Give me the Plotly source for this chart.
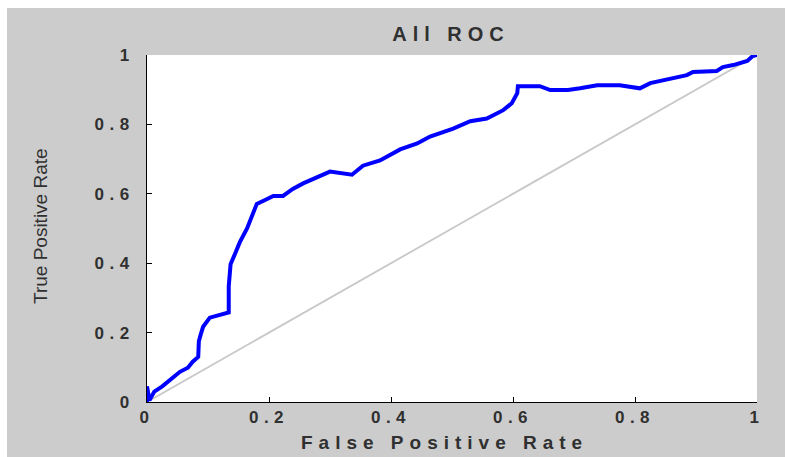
import plotly.graph_objects as go

# ROC curve points (false positive rate, true positive rate)
fpr = [0.000, 0.000, 0.004, 0.012, 0.025, 0.038, 0.054, 0.067, 0.075, 0.084,
       0.085, 0.088, 0.092, 0.103, 0.120, 0.134, 0.134, 0.137, 0.144, 0.152,
       0.164, 0.172, 0.180, 0.197, 0.207, 0.223, 0.239, 0.256, 0.272, 0.290,
       0.300, 0.336, 0.354, 0.382, 0.415, 0.443, 0.464, 0.502, 0.530, 0.557,
       0.584, 0.598, 0.607, 0.608, 0.644, 0.661, 0.690, 0.710, 0.738, 0.775,
       0.808, 0.825, 0.852, 0.885, 0.895, 0.934, 0.944, 0.961, 0.984, 0.993,
       1.000]
tpr = [0.000, 0.045, 0.005, 0.030, 0.045, 0.064, 0.087, 0.099, 0.116, 0.130,
       0.175, 0.194, 0.217, 0.243, 0.252, 0.258, 0.333, 0.397, 0.426, 0.460,
       0.500, 0.536, 0.571, 0.585, 0.594, 0.594, 0.614, 0.630, 0.643, 0.655,
       0.664, 0.655, 0.681, 0.696, 0.728, 0.745, 0.765, 0.788, 0.809, 0.817,
       0.841, 0.861, 0.890, 0.910, 0.910, 0.899, 0.899, 0.904, 0.913, 0.913,
       0.904, 0.919, 0.930, 0.942, 0.951, 0.954, 0.965, 0.971, 0.983, 0.997,
       1.000]

# chance line
chance_x = [0, 1]
chance_y = [0, 1]

tick_vals = [0, 0.2, 0.4, 0.6, 0.8, 1]
tick_text = ["0", "0.2", "0.4", "0.6", "0.8", "1"]

title_text = "All ROC"
x_title = "False Positive Rate"
y_title = "True Positive Rate"

FONT = "Liberation Sans, Arial, sans-serif"
INK = "#303030"
FIG_BG = "#cccccc"


def wide(s, px):
    return f"<span style='letter-spacing:{px}px'>{s}</span>"


fig = go.Figure()
fig.add_trace(go.Scatter(x=chance_x, y=chance_y, mode="lines",
                         line=dict(color="#c8c8c8", width=1.8),
                         hoverinfo="skip", showlegend=False))
fig.add_trace(go.Scatter(x=fpr, y=tpr, mode="lines",
                         line=dict(color="#0000ff", width=4),
                         showlegend=False))

W, H = 785, 457
L, R, T, B = 147, 28, 55, 55
PW, PH = W - L - R, H - T - B

axis_common = dict(
    range=[0, 1], tickmode="array", tickvals=tick_vals,
    ticks="inside", ticklen=5, tickwidth=1, tickcolor="#000000",
    showline=True, linecolor="#000000", linewidth=1, mirror=False,
    showgrid=False, zeroline=False, fixedrange=True, automargin=False,
    tickfont=dict(family=FONT, size=17, color=INK, weight="bold"),
)

fig.update_layout(
    width=W, height=H,
    margin=dict(l=L, r=R, t=T, b=B, pad=0, autoexpand=False),
    paper_bgcolor=FIG_BG, plot_bgcolor="#ffffff",
    title=dict(text=wide(title_text, 6), x=451 / W, xref="container",
               xanchor="center", y=1 - 34 / H, yref="container",
               yanchor="middle",
               font=dict(family=FONT, size=20, color=INK, weight="bold")),
    xaxis=dict(**axis_common,
               ticktext=[wide(t, 5.5) for t in tick_text],
               ticklabelstandoff=0),
    yaxis=dict(**axis_common,
               ticktext=[wide(t, 5.5) for t in tick_text],
               ticklabelstandoff=8),
    annotations=[
        dict(text=wide(x_title, 6), xref="paper", yref="paper",
             x=(444 - L) / PW, y=-(442 - (H - B)) / PH,
             xanchor="center", yanchor="middle", showarrow=False,
             font=dict(family=FONT, size=19, color=INK, weight="bold")),
        dict(text=y_title, xref="paper", yref="paper",
             x=(40 - L) / PW, y=((H - B) - 226) / PH, textangle=-90,
             xanchor="center", yanchor="middle", showarrow=False,
             font=dict(family=FONT, size=19, color=INK)),
    ],
    shapes=[
        # white strips along the top and left edges of the figure
        dict(type="rect", xref="paper", yref="paper",
             x0=-L / PW, x1=(W - L) / PW,
             y0=(H - B - 8) / PH, y1=(H - B) / PH,
             fillcolor="#ffffff", line=dict(width=0), layer="above"),
        dict(type="rect", xref="paper", yref="paper",
             x0=-L / PW, x1=(7 - L) / PW,
             y0=-B / PH, y1=(H - B) / PH,
             fillcolor="#ffffff", line=dict(width=0), layer="above"),
    ],
)

fig.write_html("out.html")
